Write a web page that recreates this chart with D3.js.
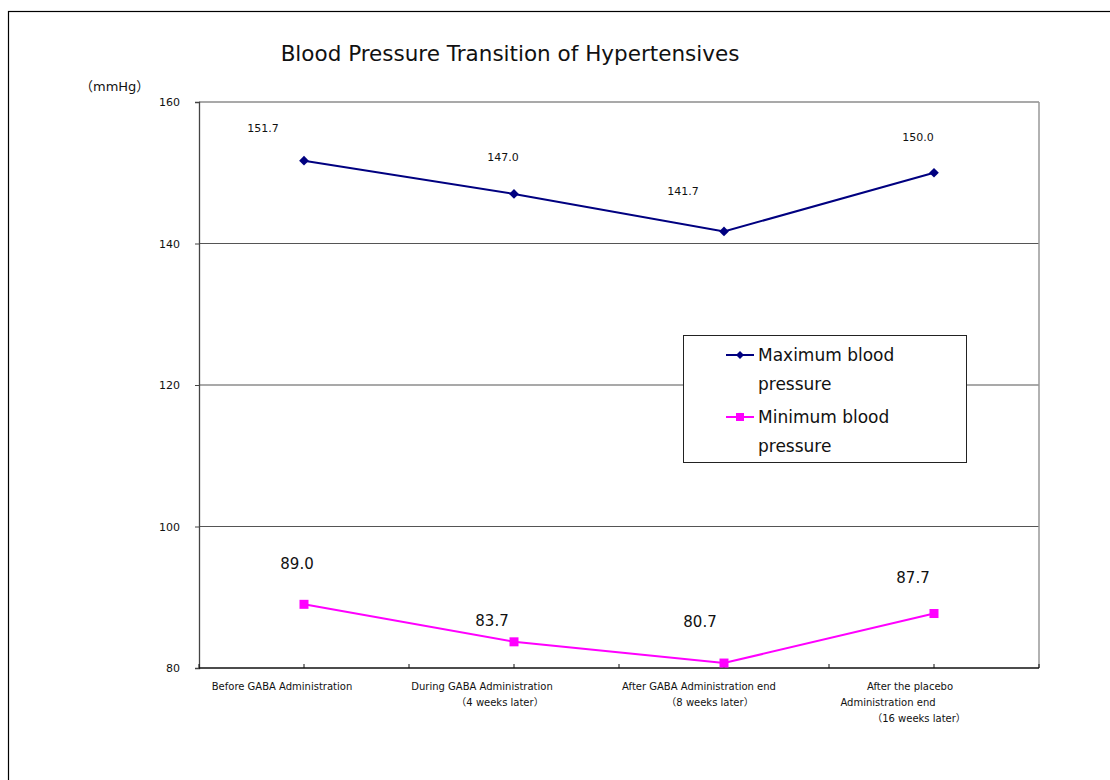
<!DOCTYPE html>
<html>
<head>
<meta charset="utf-8">
<script src="https://cdn.jsdelivr.net/npm/d3@7"></script>
<style>
  body { margin: 0; background: #fff; }
  text { font-family: "DejaVu Sans", "Noto Sans CJK JP", sans-serif; fill: #111; }
</style>
</head>
<body>
<script>
"use strict";
(function(){
    // chart data
    const categories = ["before", "during", "after", "placebo"];
    const categoryLines = [
        ["Before GABA Administration"],
        ["During GABA Administration", "（4 weeks later）"],
        ["After GABA Administration end", "（8 weeks later）"],
        ["After the placebo", "Administration end", "（16 weeks later）"]
    ];
    const maxPressure = [151.7, 147.0, 141.7, 150.0];
    const minPressure = [89.0, 83.7, 80.7, 87.7];
    const yTicks = [80, 100, 120, 140, 160];
    const seriesNames = [["Maximum blood", "pressure"], ["Minimum blood", "pressure"]];

    // label nudges (manual placement as in the original)
    const maxLabelShift = [[-41, -29], [-11, -33], [-41, -36], [-16, -32]];
    const minLabelShift = [[-7, -35], [-22, -16], [-24, -36], [-21, -31]];
    const lineShift = [[-22], [-32, -14], [-25, -14], [-24, -46, -15]];

    const m = { left: 199, right: 1039, top: 102, bottom: 668 };

    const svg = d3.select("body").append("svg")
        .attr("width", 1110)
        .attr("height", 780);

    // outer frame
    svg.append("rect")
        .attr("x", 8.5).attr("y", 11.5)
        .attr("width", 1120).attr("height", 790)
        .attr("fill", "none").attr("stroke", "#000").attr("stroke-width", 1.2);

    const x = d3.scaleBand()
        .domain(categories)
        .range([m.left, m.right]);
    const cx = d => x(d) + x.bandwidth() / 2;

    const y = d3.scaleLinear()
        .domain([80, 160])
        .range([m.bottom, m.top]);

    // grid lines
    svg.append("g")
        .selectAll("line")
        .data(yTicks.slice(1))
        .enter()
        .append("line")
        .attr("x1", m.left).attr("x2", m.right)
        .attr("y1", d => y(d)).attr("y2", d => y(d))
        .attr("stroke", "#555").attr("stroke-width", 1.2);

    // plot frame right side
    svg.append("line")
        .attr("x1", m.right).attr("x2", m.right)
        .attr("y1", m.top).attr("y2", m.bottom)
        .attr("stroke", "#999").attr("stroke-width", 1.5);

    // y axis
    const yAxis = svg.append("g")
        .attr("transform", `translate(${m.left},0)`)
        .call(d3.axisLeft(y).tickValues(yTicks).tickSize(4).tickPadding(15));
    yAxis.select(".domain").attr("stroke", "#444").attr("stroke-width", 1.3);
    yAxis.selectAll(".tick line").attr("stroke", "#444");
    yAxis.selectAll("text").style("font-size", "11px")
        .style("font-family", "'DejaVu Sans', sans-serif")
        .attr("fill", "#111");

    // x axis, ticks at boundaries and centres
    const halfTicks = d3.range(0, categories.length * 2 + 1)
        .map(i => m.left + i * x.bandwidth() / 2);
    svg.append("line")
        .attr("x1", m.left).attr("x2", m.right)
        .attr("y1", m.bottom).attr("y2", m.bottom)
        .attr("stroke", "#111").attr("stroke-width", 1.4);
    svg.append("g")
        .selectAll("line")
        .data(halfTicks)
        .enter()
        .append("line")
        .attr("x1", d => d).attr("x2", d => d)
        .attr("y1", m.bottom - 4).attr("y2", m.bottom)
        .attr("stroke", "#111");

    // category labels
    categories.forEach((c, i) => {
        categoryLines[i].forEach((t, j) => {
            svg.append("text")
                .attr("x", cx(c) + lineShift[i][j])
                .attr("y", 690 + j * 16)
                .attr("text-anchor", "middle")
                .style("font-size", "10px")
                .text(t);
        });
    });

    // unit label
    svg.append("text")
        .attr("x", 80).attr("y", 91)
        .style("font-size", "13px")
        .text("（mmHg）");

    // title
    svg.append("text")
        .attr("x", 510).attr("y", 61)
        .attr("text-anchor", "middle")
        .style("font-size", "21.5px")
        .text("Blood Pressure Transition of Hypertensives");

    const line = d3.line()
        .x((d, i) => cx(categories[i]))
        .y(d => y(d));

    // maximum series
    svg.append("path")
        .datum(maxPressure)
        .attr("d", line)
        .attr("fill", "none").attr("stroke", "#000080").attr("stroke-width", 2);
    svg.append("g")
        .selectAll("path")
        .data(maxPressure)
        .enter()
        .append("path")
        .attr("d", d3.symbol(d3.symbolDiamond2, 60))
        .attr("transform", (d, i) => `translate(${cx(categories[i])},${y(d)})`)
        .attr("fill", "#000080");
    svg.append("g")
        .selectAll("text")
        .data(maxPressure)
        .enter()
        .append("text")
        .attr("x", (d, i) => cx(categories[i]) + maxLabelShift[i][0])
        .attr("y", (d, i) => y(d) + maxLabelShift[i][1])
        .attr("text-anchor", "middle")
        .style("font-size", "11px")
        .text(d => d.toFixed(1));

    // minimum series
    svg.append("path")
        .datum(minPressure)
        .attr("d", line)
        .attr("fill", "none").attr("stroke", "#FF00FF").attr("stroke-width", 2);
    svg.append("g")
        .selectAll("rect")
        .data(minPressure)
        .enter()
        .append("rect")
        .attr("x", (d, i) => cx(categories[i]) - 4.5)
        .attr("y", d => y(d) - 4.5)
        .attr("width", 9).attr("height", 9)
        .attr("fill", "#FF00FF");
    svg.append("g")
        .selectAll("text")
        .data(minPressure)
        .enter()
        .append("text")
        .attr("x", (d, i) => cx(categories[i]) + minLabelShift[i][0])
        .attr("y", (d, i) => y(d) + minLabelShift[i][1])
        .attr("text-anchor", "middle")
        .style("font-size", "15px")
        .text(d => d.toFixed(1));

    // legend
    const legend = svg.append("g").attr("transform", "translate(683,335)");
    legend.append("rect")
        .attr("x", 0.5).attr("y", 0.5)
        .attr("width", 283).attr("height", 127)
        .attr("fill", "#fff").attr("stroke", "#222");
    const colors = ["#000080", "#FF00FF"];
    seriesNames.forEach((name, i) => {
        const yy = 20 + i * 62;
        legend.append("line")
            .attr("x1", 43).attr("x2", 71)
            .attr("y1", yy).attr("y2", yy)
            .attr("stroke", colors[i]).attr("stroke-width", 2);
        if (i === 0) {
            legend.append("path")
                .attr("d", d3.symbol(d3.symbolDiamond2, 40))
                .attr("transform", `translate(57,${yy})`)
                .attr("fill", colors[i]);
        } else {
            legend.append("rect")
                .attr("x", 53).attr("y", yy - 4)
                .attr("width", 8).attr("height", 8)
                .attr("fill", colors[i]);
        }
        name.forEach((t, j) => {
            legend.append("text")
                .attr("x", 75).attr("y", yy + 6 + j * 29)
                .style("font-size", "17px")
                .text(t);
        });
    });
})()
</script>
</body>
</html>
